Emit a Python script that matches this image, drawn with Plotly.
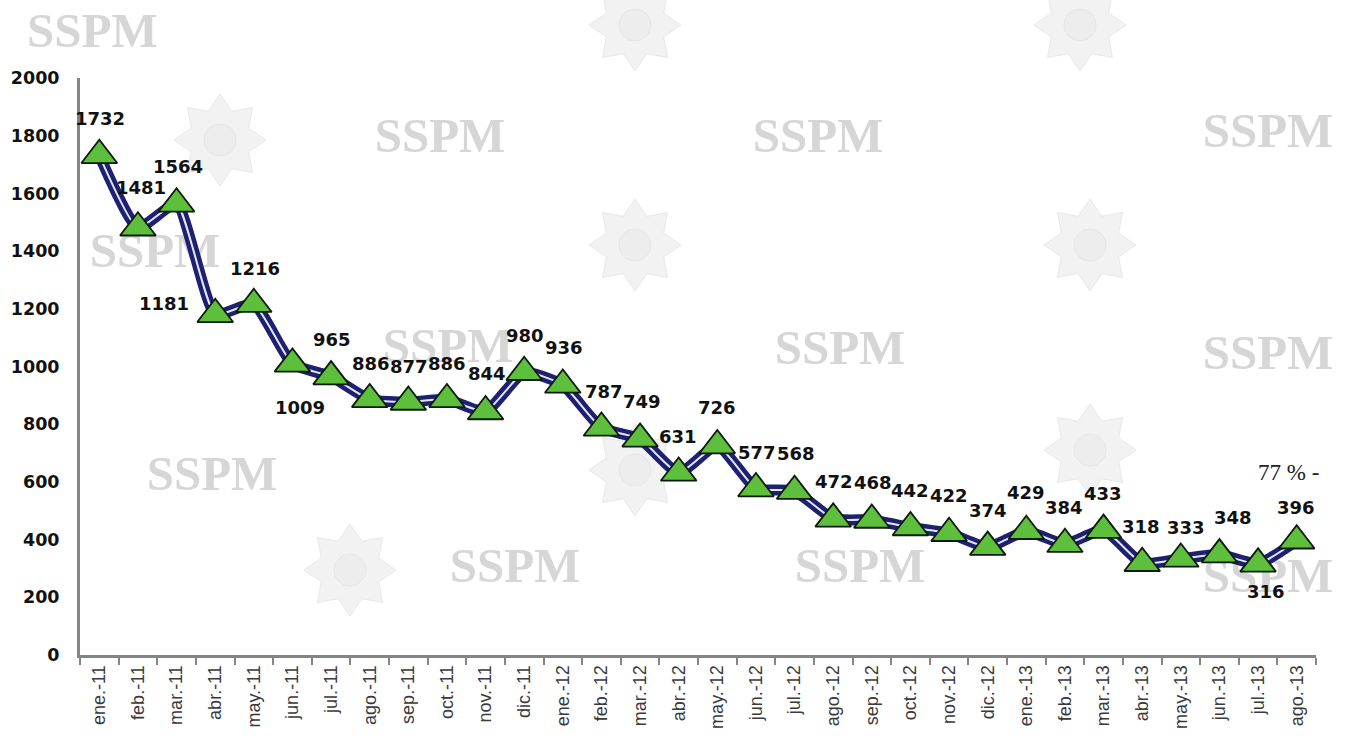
import math
import plotly.graph_objects as go

# ---------------- data ----------------
months = ["ene.-11", "feb.-11", "mar.-11", "abr.-11", "may.-11", "jun.-11", "jul.-11", "ago.-11",
          "sep.-11", "oct.-11", "nov.-11", "dic.-11", "ene.-12", "feb.-12", "mar.-12", "abr.-12",
          "may.-12", "jun.-12", "jul.-12", "ago.-12", "sep.-12", "oct.-12", "nov.-12", "dic.-12",
          "ene.-13", "feb.-13", "mar.-13", "abr.-13", "may.-13", "jun.-13", "jul.-13", "ago.-13"]
values = [1732, 1481, 1564, 1181, 1216, 1009, 965, 886, 877, 886, 844, 980,
          936, 787, 749, 631, 726, 577, 568, 472, 468, 442, 422, 374,
          429, 384, 433, 318, 333, 348, 316, 396]
y_ticks = [0, 200, 400, 600, 800, 1000, 1200, 1400, 1600, 1800, 2000]
note_text = "77 % -"
watermark_text = "SSPM"

# ---------------- style (label offsets in px) ----------------
label_dx = [1, 3, 1, -51, 1, 8, 1, 1, 1, 0, 1, 1, 1, 3, 2, -1, 0, 1, 1, 1, 1, 0, 0, 0,
            0, -1, -1, -1, 5, 14, 8, -1]
label_dy = [-37, -40, -37, -11, -36, 44, -37, -36, -35, -36, -38, -37, -37, -36, -37, -36,
            -38, -36, -38, -37, -37, -37, -38, -37, -39, -37, -37, -37, -31, -37, 28, -33]

W, H = 1349, 739
L, R, T, B = 80, 33, 78, 84
PW, PH = W - L - R, H - T - B

wm_top = (92, 30)
wm_pos = [(440, 140), (818, 140), (1268, 135), (155, 255), (448, 350),
          (840, 352), (1268, 357), (212, 478), (515, 570), (860, 570), (1268, 580)]
star_pos = [(220, 140), (635, 25), (1080, 25), (635, 245), (1090, 245), (350, 570),
            (1090, 450), (635, 470)]


def to_paper(X, Y):
    return (X - L) / PW, (H - B - Y) / PH


def star_path(cx, cy, ro=46, ri=31, n=8):
    pts = []
    for k in range(2 * n):
        r = ro if k % 2 == 0 else ri
        a = math.pi / 2 + k * math.pi / n
        px, py = to_paper(cx + r * math.cos(a), cy - r * math.sin(a))
        pts.append(f"{px:.5f},{py:.5f}")
    return "M" + " L".join(pts) + " Z"


wm_font = dict(family="Liberation Serif", size=49, color="#d6d6d6", weight="bold")

fig = go.Figure()

# watermark text on a hidden base subplot (drawn underneath the data)
fig.add_trace(go.Scatter(
    x=[p[0] for p in wm_pos], y=[H - p[1] for p in wm_pos],
    mode="text", text=[watermark_text] * len(wm_pos),
    textfont=wm_font,
    cliponaxis=False, hoverinfo="skip", showlegend=False,
    xaxis="x", yaxis="y"))

# data line: dark tube with a light highlight
fig.add_trace(go.Scatter(
    x=months, y=values, mode="lines",
    line=dict(color="#1d2170", width=11, shape="spline", smoothing=0.5),
    hoverinfo="skip", showlegend=False, xaxis="x2", yaxis="y2"))
fig.add_trace(go.Scatter(
    x=months, y=values, mode="lines",
    line=dict(color="#e3e7ff", width=2, shape="spline", smoothing=0.5),
    hoverinfo="skip", showlegend=False, xaxis="x2", yaxis="y2"))
fig.add_trace(go.Scatter(
    x=months, y=values, mode="markers",
    marker=dict(symbol="triangle-up", size=31, color="#5dbf3c",
                line=dict(color="#0d1a0d", width=1.8)),
    showlegend=False, xaxis="x2", yaxis="y2"))

annotations = []
for m, v, dx, dy in zip(months, values, label_dx, label_dy):
    annotations.append(dict(
        x=m, y=v, xref="x2", yref="y2", text=str(v), showarrow=False,
        xshift=dx, yshift=-dy, xanchor="center", yanchor="middle",
        font=dict(family="DejaVu Sans", size=18, color="#111111", weight="bold")))

nx, ny = to_paper(1288, 472)
annotations.append(dict(
    x=nx, y=ny, xref="paper", yref="paper", text=note_text, showarrow=False,
    xanchor="center", yanchor="middle",
    font=dict(family="Liberation Serif", size=23, color="#222222")))

tx, ty = to_paper(*wm_top)
annotations.append(dict(
    x=tx, y=ty, xref="paper", yref="paper", text=watermark_text, showarrow=False,
    xanchor="center", yanchor="middle", font=wm_font))

shapes = []
for (cx, cy) in star_pos:
    shapes.append(dict(type="path", path=star_path(cx, cy), xref="paper", yref="paper",
                       fillcolor="#f2f2f2", line=dict(color="#e8e8e8", width=1),
                       layer="below"))
    px0, py0 = to_paper(cx - 16, cy + 16)
    px1, py1 = to_paper(cx + 16, cy - 16)
    shapes.append(dict(type="circle", x0=px0, y0=py0, x1=px1, y1=py1,
                       xref="paper", yref="paper", fillcolor="#ededed",
                       line=dict(color="#e6e6e6", width=1), layer="below"))

fig.update_layout(
    width=W, height=H,
    margin=dict(l=L, r=R, t=T, b=B, autoexpand=False),
    paper_bgcolor="white", plot_bgcolor="rgba(0,0,0,0)",
    showlegend=False,
    xaxis=dict(range=[L, W - R], visible=False, fixedrange=True),
    yaxis=dict(range=[B, H - T], visible=False, fixedrange=True),
    xaxis2=dict(overlaying="x", anchor="y2", type="category", categoryorder="array",
                categoryarray=months, range=[-0.5, len(months) - 0.5],
                showline=True, linecolor="#858585", linewidth=3,
                ticks="outside", tickson="boundaries", ticklen=7, tickwidth=2,
                tickcolor="#858585", tickangle=-90, showgrid=False, zeroline=False,
                tickfont=dict(family="Liberation Sans", size=18, color="#3a3a3a"),
                automargin=False),
    yaxis2=dict(overlaying="y", anchor="x2", side="left", range=[0, 2000],
                tickvals=y_ticks, showline=True, linecolor="#858585", linewidth=3,
                ticks="", ticklabelstandoff=14, showgrid=False, zeroline=False,
                tickfont=dict(family="DejaVu Sans", size=17.5, color="#111111", weight="bold"),
                automargin=False),
    annotations=annotations,
    shapes=shapes,
)

fig.write_html("out.html", config={"displayModeBar": False},
               post_script="document.body.style.margin='0';")
